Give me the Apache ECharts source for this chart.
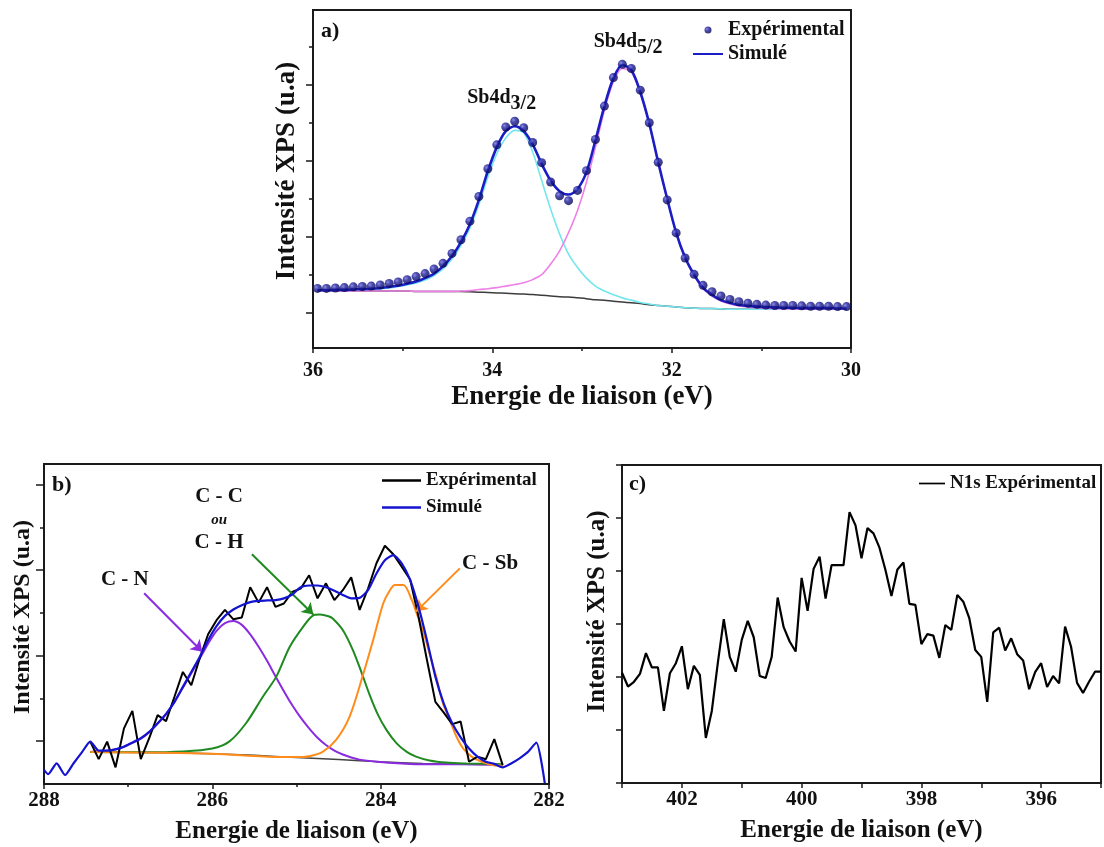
<!DOCTYPE html>
<html>
<head>
<meta charset="utf-8">
<script src="https://cdn.jsdelivr.net/npm/echarts@6/dist/echarts.min.js"></script>
<style>html,body{margin:0;padding:0;background:#fff}#c{width:1104px;height:847px}</style>
</head>
<body>
<div id="c"></div>
<script>
// ---------- Panel a : Sb4d ----------
const eA = [35.95,35.85,35.75,35.65,35.55,35.45,35.35,35.25,35.15,35.05,34.95,34.85,34.75,34.65,34.55,34.45,34.35,34.25,34.15,34.05,33.95,33.85,33.75,33.65,33.55,33.45,33.35,33.25,33.15,33.05,32.95,32.85,32.75,32.65,32.55,32.45,32.35,32.25,32.15,32.05,31.95,31.85,31.75,31.65,31.55,31.45,31.35,31.25,31.15,31.05,30.95,30.85,30.75,30.65,30.55,30.45,30.35,30.25,30.15,30.05];
const expA = [0.64,0.64,0.65,0.66,0.68,0.69,0.70,0.73,0.77,0.81,0.87,0.95,1.03,1.15,1.30,1.56,1.92,2.41,3.06,3.79,4.42,4.89,5.04,4.87,4.48,3.95,3.44,3.08,2.95,3.22,3.74,4.56,5.44,6.19,6.54,6.43,5.86,5.00,3.96,2.97,2.10,1.44,1.01,0.72,0.55,0.44,0.35,0.29,0.25,0.22,0.20,0.19,0.19,0.19,0.18,0.17,0.17,0.17,0.16,0.16];
const simA = [0.59,0.59,0.60,0.60,0.61,0.62,0.63,0.65,0.68,0.71,0.76,0.82,0.91,1.03,1.22,1.49,1.86,2.33,2.97,3.73,4.36,4.78,4.91,4.78,4.43,3.92,3.48,3.20,3.11,3.26,3.70,4.54,5.44,6.17,6.52,6.39,5.81,4.98,3.96,3.00,2.11,1.45,1.00,0.66,0.47,0.33,0.26,0.20,0.18,0.16,0.15,0.14,0.13,0.13,0.12,0.12,0.12,0.12,0.11,0.11];
const d32A = [0.57,0.57,0.58,0.58,0.59,0.60,0.61,0.63,0.65,0.69,0.73,0.78,0.86,0.98,1.15,1.41,1.77,2.23,2.85,3.57,4.19,4.60,4.80,4.73,4.23,3.48,2.73,2.07,1.54,1.19,0.91,0.70,0.57,0.47,0.39,0.33,0.27,0.23,0.19,0.17,0.15,0.13,0.12,0.11,0.11,0.10,0.09,0.09,0.09,0.09,0.09,0.09,0.09,0.09,0.09,0.09,0.09,0.09,0.09,0.09];
const d52A = [0.57,0.57,0.57,0.57,0.57,0.57,0.57,0.57,0.57,0.57,0.57,0.56,0.56,0.56,0.56,0.56,0.57,0.58,0.61,0.63,0.66,0.70,0.74,0.79,0.87,1.00,1.28,1.63,2.11,2.69,3.44,4.36,5.33,6.08,6.43,6.34,5.79,4.96,3.95,2.98,2.10,1.44,0.97,0.63,0.44,0.31,0.23,0.18,0.15,0.13,0.11,0.11,0.10,0.10,0.09,0.09,0.09,0.09,0.09,0.09];
const bgA = [0.57,0.57,0.57,0.57,0.57,0.57,0.57,0.57,0.57,0.57,0.57,0.56,0.56,0.56,0.56,0.56,0.56,0.55,0.54,0.53,0.52,0.51,0.50,0.49,0.48,0.46,0.44,0.42,0.41,0.39,0.37,0.34,0.33,0.30,0.28,0.26,0.24,0.21,0.19,0.17,0.15,0.13,0.12,0.11,0.11,0.10,0.09,0.09,0.09,0.09,0.09,0.09,0.09,0.09,0.09,0.09,0.09,0.09,0.09,0.09];
const yMajorA = [0,2,4,6];
const yMinorA = [1,3,5,7];

// ---------- Panel b : C1s ----------
const eB = [287.45,287.35,287.25,287.15,287.05,286.95,286.85,286.75,286.65,286.55,286.45,286.35,286.25,286.15,286.05,285.95,285.85,285.75,285.65,285.55,285.45,285.35,285.25,285.15,285.05,284.95,284.85,284.75,284.65,284.55,284.45,284.35,284.25,284.15,284.05,283.95,283.85,283.75,283.65,283.55,283.45,283.35,283.25,283.15,283.05,282.95,282.85,282.75,282.65,282.55];
const expB = [0.99,0.58,0.99,0.39,1.30,1.71,0.58,1.07,1.61,1.47,2.04,2.62,2.31,2.94,3.50,3.83,4.07,3.85,3.89,4.60,4.24,4.60,4.14,4.22,4.49,4.57,4.88,4.34,4.69,4.30,4.53,4.83,4.07,4.57,5.16,5.57,5.37,5.08,4.78,3.91,2.90,1.92,1.67,1.40,1.46,0.52,0.64,0.58,1.05,0.44];
const simBE = [288.0,287.95,287.85,287.75,287.65,287.55,287.45,287.35,287.25,287.15,287.05,286.95,286.85,286.75,286.65,286.55,286.45,286.35,286.25,286.15,286.05,285.95,285.85,285.75,285.65,285.55,285.45,285.35,285.25,285.15,285.05,284.95,284.85,284.75,284.65,284.55,284.45,284.35,284.25,284.15,284.05,283.95,283.85,283.75,283.65,283.55,283.45,283.35,283.25,283.15,283.05,282.95,282.85,282.75,282.65,282.55,282.45,282.35,282.25,282.15,282.05];
const simB = [0.33,0.23,0.48,0.21,0.48,0.74,0.99,0.78,0.78,0.81,0.87,0.97,1.07,1.22,1.42,1.64,1.92,2.27,2.62,2.97,3.36,3.69,3.93,4.08,4.18,4.25,4.28,4.29,4.30,4.34,4.43,4.60,4.64,4.64,4.60,4.52,4.42,4.34,4.35,4.53,4.92,5.23,5.35,5.16,4.77,4.14,3.36,2.51,1.88,1.42,1.09,0.83,0.64,0.52,0.47,0.39,0.48,0.60,0.75,0.97,0.02];
const cnE = [287.45,287.35,287.25,287.15,287.05,286.95,286.85,286.75,286.65,286.55,286.45,286.35,286.25,286.15,286.05,285.95,285.85,285.75,285.65,285.55,285.45,285.35,285.25,285.15,285.05,284.95,284.85,284.75,284.65,284.55,284.45,284.35,284.25,284.05,283.85,283.65,283.45,283.05,282.55];
const cnB = [0.75,0.77,0.78,0.81,0.87,0.96,1.06,1.21,1.41,1.63,1.91,2.25,2.59,2.93,3.28,3.58,3.76,3.81,3.72,3.50,3.21,2.88,2.52,2.17,1.84,1.55,1.30,1.08,0.91,0.78,0.69,0.62,0.57,0.52,0.49,0.47,0.46,0.46,0.45];
const ccE = [287.45,286.8,286.35,286.0,285.8,285.6,285.4,285.24,285.08,284.92,284.81,284.72,284.62,284.57,284.45,284.33,284.23,284.13,284.03,283.93,283.81,283.69,283.58,283.42,283.22,282.98,282.55];
const ccB = [0.75,0.74,0.76,0.83,0.99,1.42,2.04,2.51,3.21,3.68,3.93,3.96,3.92,3.87,3.60,3.13,2.62,2.08,1.61,1.26,0.95,0.75,0.64,0.55,0.50,0.48,0.46];
const csE = [287.45,286.0,285.2,285.0,284.85,284.69,284.53,284.37,284.21,284.09,283.97,283.89,283.83,283.73,283.63,283.58,283.50,283.42,283.34,283.26,283.18,283.10,283.02,282.92,282.80,282.66,282.55];
const csB = [0.75,0.71,0.63,0.63,0.65,0.75,1.03,1.57,2.55,3.36,4.22,4.53,4.65,4.65,4.30,4.03,3.60,3.05,2.51,1.88,1.50,1.11,0.83,0.64,0.52,0.44,0.43];
const bgBE = [287.45,287.0,286.5,286.0,285.5,285.0,284.5,284.0,283.5,283.0,282.55];
const bgB = [0.75,0.74,0.73,0.71,0.67,0.62,0.57,0.52,0.48,0.46,0.45];
const yMajorB = [1,3,5,7];
const yMinorB = [2,4,6];

// ---------- Panel c : N1s ----------
const eC = [403.0,402.9,402.8,402.7,402.6,402.5,402.4,402.3,402.2,402.1,402.0,401.9,401.8,401.7,401.6,401.5,401.4,401.3,401.2,401.1,401.0,400.9,400.8,400.7,400.6,400.5,400.4,400.3,400.2,400.1,400.0,399.9,399.8,399.7,399.6,399.5,399.4,399.3,399.2,399.1,399.0,398.9,398.8,398.7,398.6,398.5,398.4,398.3,398.2,398.1,398.0,397.9,397.8,397.7,397.6,397.5,397.4,397.3,397.2,397.1,397.0,396.9,396.8,396.7,396.6,396.5,396.4,396.3,396.2,396.1,396.0,395.9,395.8,395.7,395.6,395.5,395.4,395.3,395.2,395.1,395.0];
const n1s = [2.08,1.82,1.91,2.06,2.45,2.18,2.18,1.36,2.07,2.26,2.58,1.77,2.21,2.04,0.85,1.36,2.26,3.09,2.38,2.10,2.70,3.06,2.75,2.02,1.98,2.38,3.50,2.94,2.67,2.48,3.87,3.25,4.04,4.27,3.48,4.11,4.11,4.11,5.11,4.86,4.24,4.81,4.71,4.44,4.02,3.53,4.03,4.16,3.38,3.36,2.62,2.81,2.78,2.36,2.98,2.89,3.55,3.42,3.11,2.51,2.38,1.53,2.84,2.93,2.50,2.73,2.43,2.31,1.77,2.09,2.26,1.81,2.02,1.88,2.95,2.57,1.89,1.70,1.91,2.10,2.10];

const legendNames = {'a-exp':'Expérimental','a-sim':'Simulé','b-exp':'Expérimental','b-sim':'Simulé','c-exp':'N1s Expérimental'};

// ---------- build ----------
const zip = (xs, ys) => xs.map((x, i) => [x, ys[i]]);
const FONT = 'Liberation Serif';
const bold = (size) => ({fontFamily: FONT, fontWeight: 'bold', fontSize: size, color: '#111'});
const LINE_ICON = 'path://M0,0L40,0L40,2.6L0,2.6Z';
const AX = {color: '#1a1a1a', width: 2};

function xAxisCfg(grid, min, max, interval, opts) {
  return Object.assign({
    type: 'value', gridIndex: grid, min: min, max: max, interval: interval, inverse: true,
    axisLine: {show: true, onZero: false, lineStyle: AX},
    axisTick: {show: true, length: 5, lineStyle: {color: '#1a1a1a', width: 1.5}},
    splitLine: {show: false},
    name: 'Energie de liaison (eV)', nameLocation: 'middle'
  }, opts);
}
function yAxisCfg(grid, min, max, ticks, len, opts) {
  return Object.assign({
    type: 'value', gridIndex: grid, min: min, max: max, position: 'left',
    axisLine: {show: true, onZero: false, lineStyle: AX},
    axisTick: {show: true, length: len, customValues: ticks, lineStyle: {color: '#1a1a1a', width: 1.5}},
    axisLabel: {show: false},
    splitLine: {show: false}
  }, opts);
}
const lineS = (name, x, y, yIdx, color, width, extra) => Object.assign({
  type: 'line', name: name, xAxisIndex: yIdx === 0 ? 0 : (yIdx === 2 ? 1 : 2), yAxisIndex: yIdx,
  data: zip(x, y), symbol: 'none', showSymbol: false, smooth: 0.3,
  lineStyle: {color: color, width: width}, itemStyle: {color: color}, z: 3
}, extra || {});

const arrow = (color, from, to) => ({
  silent: true, symbol: ['none', 'arrow'], symbolSize: 11, animation: false,
  lineStyle: {color: color, width: 2, type: 'solid'}, label: {show: false},
  data: [[{coord: from}, {coord: to}]]
});

const option = {
  animation: false,
  textStyle: {fontFamily: FONT},
  title: [
    {text: 'a)', left: 316, top: 15, textStyle: bold(22)},
    {text: 'b)', left: 47, top: 469, textStyle: bold(22)},
    {text: 'c)', left: 624, top: 468, textStyle: bold(22)}
  ],
  legend: [
    {data: [{name: 'a-exp', icon: 'circle'}, {name: 'a-sim', icon: LINE_ICON}], orient: 'vertical', left: 688, top: 15,
     itemWidth: 30, itemHeight: 7, itemGap: 4,
     selectedMode: false, formatter: n => legendNames[n], textStyle: bold(20)},
    {data: [{name: 'b-exp', icon: LINE_ICON}, {name: 'b-sim', icon: LINE_ICON}], orient: 'vertical', left: 377, top: 466,
     itemWidth: 39, itemHeight: 8, itemGap: 8,
     selectedMode: false, formatter: n => legendNames[n], textStyle: bold(19)},
    {data: [{name: 'c-exp', icon: LINE_ICON}], orient: 'vertical', left: 914, top: 469, itemWidth: 26, itemHeight: 8,
     selectedMode: false, formatter: n => legendNames[n], textStyle: bold(19)}
  ],
  grid: [
    {left: 313, top: 10, width: 538, height: 338, show: true, borderColor: '#1a1a1a', borderWidth: 2, backgroundColor: 'transparent'},
    {left: 44, top: 464, width: 505, height: 320, show: true, borderColor: '#1a1a1a', borderWidth: 2, backgroundColor: 'transparent'},
    {left: 622, top: 465, width: 479, height: 318, show: true, borderColor: '#1a1a1a', borderWidth: 2, backgroundColor: 'transparent'}
  ],
  xAxis: [
    xAxisCfg(0, 30, 36, 2, {
      minorTick: {show: true, splitNumber: 2, length: 3, lineStyle: {color: '#1a1a1a', width: 1.5}},
      axisLabel: Object.assign(bold(20), {margin: 13}),
      nameGap: 36, nameTextStyle: bold(27)
    }),
    xAxisCfg(1, 282, 288, 2, {
      minorTick: {show: true, splitNumber: 2, length: 3, lineStyle: {color: '#1a1a1a', width: 1.5}},
      axisLabel: Object.assign(bold(21), {margin: 6}),
      nameGap: 35, nameTextStyle: bold(25)
    }),
    xAxisCfg(2, 395, 403, 1, {
      axisLabel: Object.assign(bold(21), {margin: 6, formatter: v => (Math.round(v) % 2 === 0 ? String(v) : '')}),
      nameGap: 35, nameTextStyle: bold(25)
    })
  ],
  yAxis: [
    yAxisCfg(0, -0.93, 7.97, yMajorA, 7, {name: 'Intensité XPS (u.a)', nameLocation: 'middle', nameGap: 12,
      nameTextStyle: Object.assign(bold(27), {padding: [0, 0, 0, 16]})}),
    yAxisCfg(0, -0.93, 7.97, yMinorA, 4, {axisLine: {show: false}}),
    yAxisCfg(1, 0, 7.48, yMajorB, 8, {name: 'Intensité XPS (u.a)', nameLocation: 'middle', nameGap: 9,
      nameTextStyle: Object.assign(bold(24), {padding: [0, 0, 0, 14]})}),
    yAxisCfg(1, 0, 7.48, yMinorB, 4, {axisLine: {show: false}}),
    {type: 'value', gridIndex: 2, min: 0, max: 6, interval: 1, position: 'left',
     axisLine: {show: true, onZero: false, lineStyle: AX},
     axisTick: {show: true, length: 6, lineStyle: {color: '#1a1a1a', width: 1.5}},
     axisLabel: {show: false}, splitLine: {show: false},
     name: 'Intensité XPS (u.a)', nameLocation: 'middle', nameGap: 12,
     nameTextStyle: Object.assign(bold(25), {padding: [0, 0, 0, 25]})}
  ],
  series: [
    // panel a
    lineS('a-bg', eA, bgA, 0, '#3c3c3c', 1.5, {
      markPoint: {silent: true, symbol: 'circle', symbolSize: 0, animation: false,
        label: {show: true, position: 'right', distance: 0,
          rich: {m: bold(20), s: Object.assign(bold(20), {padding: [12, 0, 0, 0]})}},
        data: [
          {coord: [34.28, 5.67], label: {formatter: '{m|Sb4d}{s|3/2}'}},
          {coord: [32.87, 7.13], label: {formatter: '{m|Sb4d}{s|5/2}'}}
        ]}
    }),
    lineS('a-d32', eA, d32A, 0, '#74e6ee', 1.6),
    lineS('a-d52', eA, d52A, 0, '#ee80e6', 1.6),
    lineS('a-sim', eA, simA, 0, '#1a1ec4', 2.6, {z: 4}),
    {type: 'scatter', name: 'a-exp', xAxisIndex: 0, yAxisIndex: 0, data: zip(eA, expA), symbolSize: 9, z: 5,
     itemStyle: {color: {type: 'radial', x: 0.35, y: 0.35, r: 0.7, colorStops: [
       {offset: 0, color: '#7070d8'}, {offset: 0.4, color: '#1c1c9c'}, {offset: 1, color: '#06064a'}]}}},
    // panel b
    lineS('b-bg', bgBE, bgB, 2, '#444444', 1.5, {
      markPoint: {silent: true, symbol: 'circle', symbolSize: 0, animation: false,
        label: {show: true, position: 'inside', color: '#111'},
        data: [
          {coord: [287.04, 4.77], label: Object.assign({formatter: 'C - N'}, bold(21))},
          {coord: [285.92, 6.71], label: Object.assign({formatter: 'C - C'}, bold(21))},
          {coord: [285.92, 6.17], label: {formatter: 'ou', fontFamily: FONT, fontWeight: 'bold', fontStyle: 'italic', fontSize: 15, color: '#111'}},
          {coord: [285.92, 5.64], label: Object.assign({formatter: 'C - H'}, bold(21))},
          {coord: [282.70, 5.16], label: Object.assign({formatter: 'C - Sb'}, bold(21))}
        ]}
    }),
    lineS('b-cn', cnE, cnB, 2, '#8b2be0', 2, {markLine: arrow('#8b2be0', [286.81, 4.46], [286.12, 3.09])}),
    lineS('b-cc', ccE, ccB, 2, '#1f8a1f', 2, {markLine: arrow('#1f8a1f', [285.53, 5.37], [284.80, 3.96])}),
    lineS('b-cs', csE, csB, 2, '#ff8c1a', 2, {markLine: arrow('#ff8c1a', [283.06, 5.04], [283.58, 4.03])}),
    lineS('b-exp', eB, expB, 2, '#000000', 2, {smooth: false, z: 4}),
    lineS('b-sim', simBE, simB, 2, '#1414d0', 2.2, {smooth: 0.2, z: 5}),
    // panel c
    lineS('c-exp', eC, n1s, 4, '#000000', 2.2, {smooth: false})
  ]
};

const chart = echarts.init(document.getElementById('c'), null, {renderer: 'canvas'});
chart.setOption(option);
</script>
</body>
</html>
